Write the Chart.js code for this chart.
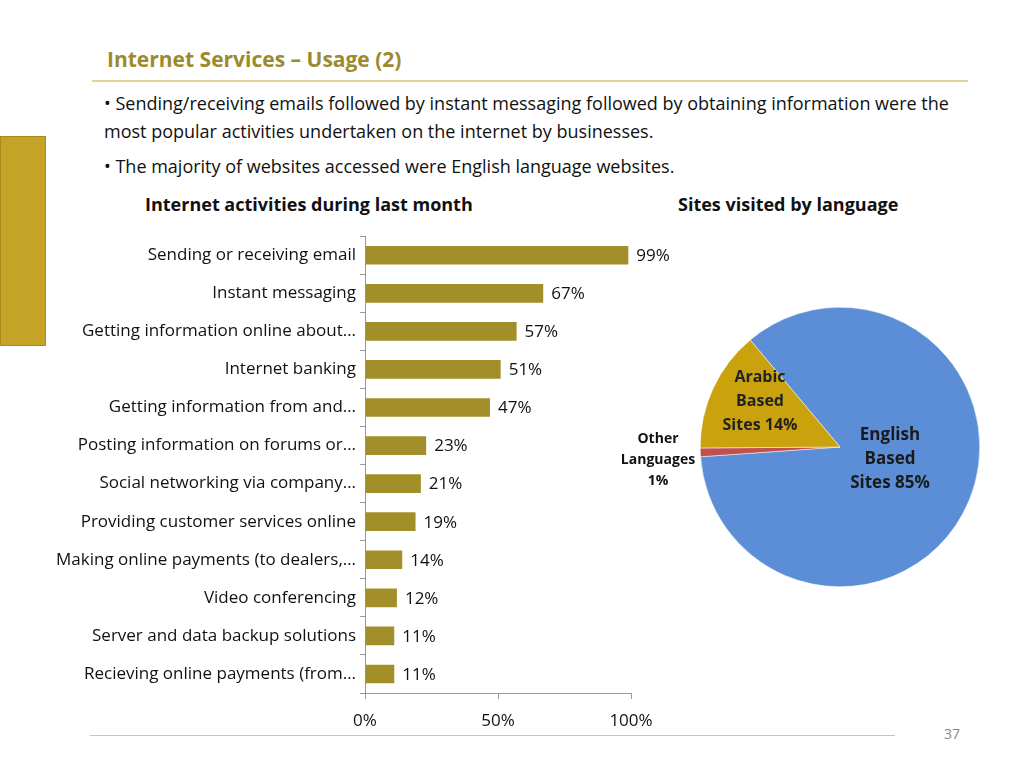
<!DOCTYPE html>
<html>
<head>
<meta charset="utf-8">
<script src="https://cdn.jsdelivr.net/npm/chart.js@4"></script>
<style>
  body { margin: 0; width: 1024px; height: 768px; position: relative; background: #fff; font-family: "Open Sans", "Liberation Sans", sans-serif; overflow: hidden; }
  .abs { position: absolute; }
  #title { left: 107px; top: 45px; font-size: 21px; font-weight: bold; color: #9C8A2E; }
  #titleLine { left: 92px; top: 80px; width: 876px; height: 2px; background: #E3D39A; }
  #sideBar { left: 0; top: 136px; width: 46px; height: 210px; background: #C5A327; border: 1px solid #A88A1C; box-sizing: border-box; }
  .bullet { font-size: 18px; color: #111; line-height: 28px; }
  .head { font-size: 18px; font-weight: bold; color: #111; }
  .pl { font-weight: bold; text-align: center; }
  #botLine { left: 90px; top: 735px; width: 805px; height: 1px; background: #D8C77E; }
  #page { left: 944px; top: 724px; font-size: 14px; color: #888; }
</style>
</head>
<body>
<div id="title" class="abs">Internet Services – Usage (2)</div>
<div id="titleLine" class="abs"></div>
<div id="sideBar" class="abs"></div>
<div class="abs bullet" style="left:104px;top:89px;width:870px;">• Sending/receiving emails followed by instant messaging followed by obtaining information were the most popular activities undertaken on the internet by businesses.</div>
<div class="abs bullet" style="left:104px;top:152px;">• The majority of websites accessed were English language websites.</div>
<div class="abs head" style="left:145px;top:192px;">Internet activities during last month</div>
<div class="abs head" style="left:678px;top:192px;">Sites visited by language</div>

<div class="abs" style="left:0;top:222px;width:680px;height:518px;"><canvas id="barChart"></canvas></div>
<div class="abs" style="left:700px;top:307px;width:280px;height:280px;"><canvas id="pieChart"></canvas></div>

<div class="abs pl" style="left:720px;top:364px;width:80px;font-size:16px;line-height:24px;color:#222;">Arabic<br>Based<br>Sites 14%</div>
<div class="abs pl" style="left:618px;top:427px;width:80px;font-size:14px;line-height:21px;color:#111;">Other<br>Languages<br>1%</div>
<div class="abs pl" style="left:845px;top:422px;width:90px;font-size:17px;line-height:24px;color:#1a1a1a;">English<br>Based<br>Sites 85%</div>

<div id="botLine" class="abs"></div>
<div id="page" class="abs">37</div>

<script>
const activities = [
  "Sending or receiving email", "Instant messaging", "Getting information online about…",
  "Internet banking", "Getting information from and…", "Posting information on forums or…",
  "Social networking via company…", "Providing customer services online",
  "Making online payments (to dealers,…", "Video conferencing",
  "Server and data backup solutions", "Recieving online payments (from…"
];
const activityPct = [99, 67, 57, 51, 47, 23, 21, 19, 14, 12, 11, 11];
const xTicks = [0, 50, 100];

const languages = ["English Based Sites", "Other Languages", "Arabic Based Sites"];
const languagePct = [85, 1, 14];

const valueLabels = {
  id: "valueLabels",
  afterDatasetsDraw(chart) {
    const ctx = chart.ctx;
    ctx.save();
    ctx.font = "17px 'Open Sans', sans-serif";
    ctx.fillStyle = "#111";
    ctx.textBaseline = "middle";
    chart.getDatasetMeta(0).data.forEach((bar, i) => {
      ctx.fillText(activityPct[i] + "%", bar.x + 8, bar.y + 1);
    });
    ctx.restore();
  }
};

new Chart(document.getElementById("barChart"), {
  type: "bar",
  data: {
    labels: activities,
    datasets: [{ data: activityPct, backgroundColor: "#A38F2A", categoryPercentage: 1, barPercentage: 0.49 }]
  },
  options: {
    indexAxis: "y",
    responsive: true,
    maintainAspectRatio: false,
    animation: false,
    layout: { padding: { right: 49, top: 0 } },
    plugins: { legend: { display: false }, tooltip: { enabled: false } },
    scales: {
      x: {
        min: 0, max: 100,
        afterBuildTicks: (a) => { a.ticks = xTicks.map(v => ({ value: v })); },
        afterFit: (a) => { a.height = 47; },
        ticks: { callback: (v) => v + "%", font: { size: 17, family: "Open Sans" }, color: "#111", padding: 12 },
        grid: { drawOnChartArea: false, tickLength: 6, color: "#999" },
        border: { color: "#999" }
      },
      y: {
        afterFit: (a) => { a.width = 365; },
        ticks: { font: { size: 17, family: "Open Sans" }, color: "#111", padding: 4 },
        grid: { drawOnChartArea: false, offset: true, tickLength: 5, color: "#999" },
        border: { color: "#999" }
      }
    }
  },
  plugins: [valueLabels]
});

new Chart(document.getElementById("pieChart"), {
  type: "pie",
  data: {
    labels: languages,
    datasets: [{ data: languagePct, backgroundColor: ["#5B8ED6", "#C0504D", "#C9A20E"], borderColor: "#fff", borderWidth: 0.5 }]
  },
  options: {
    responsive: true,
    maintainAspectRatio: false,
    animation: false,
    rotation: -40,
    plugins: { legend: { display: false }, tooltip: { enabled: false } }
  }
});
</script>
</body>
</html>
